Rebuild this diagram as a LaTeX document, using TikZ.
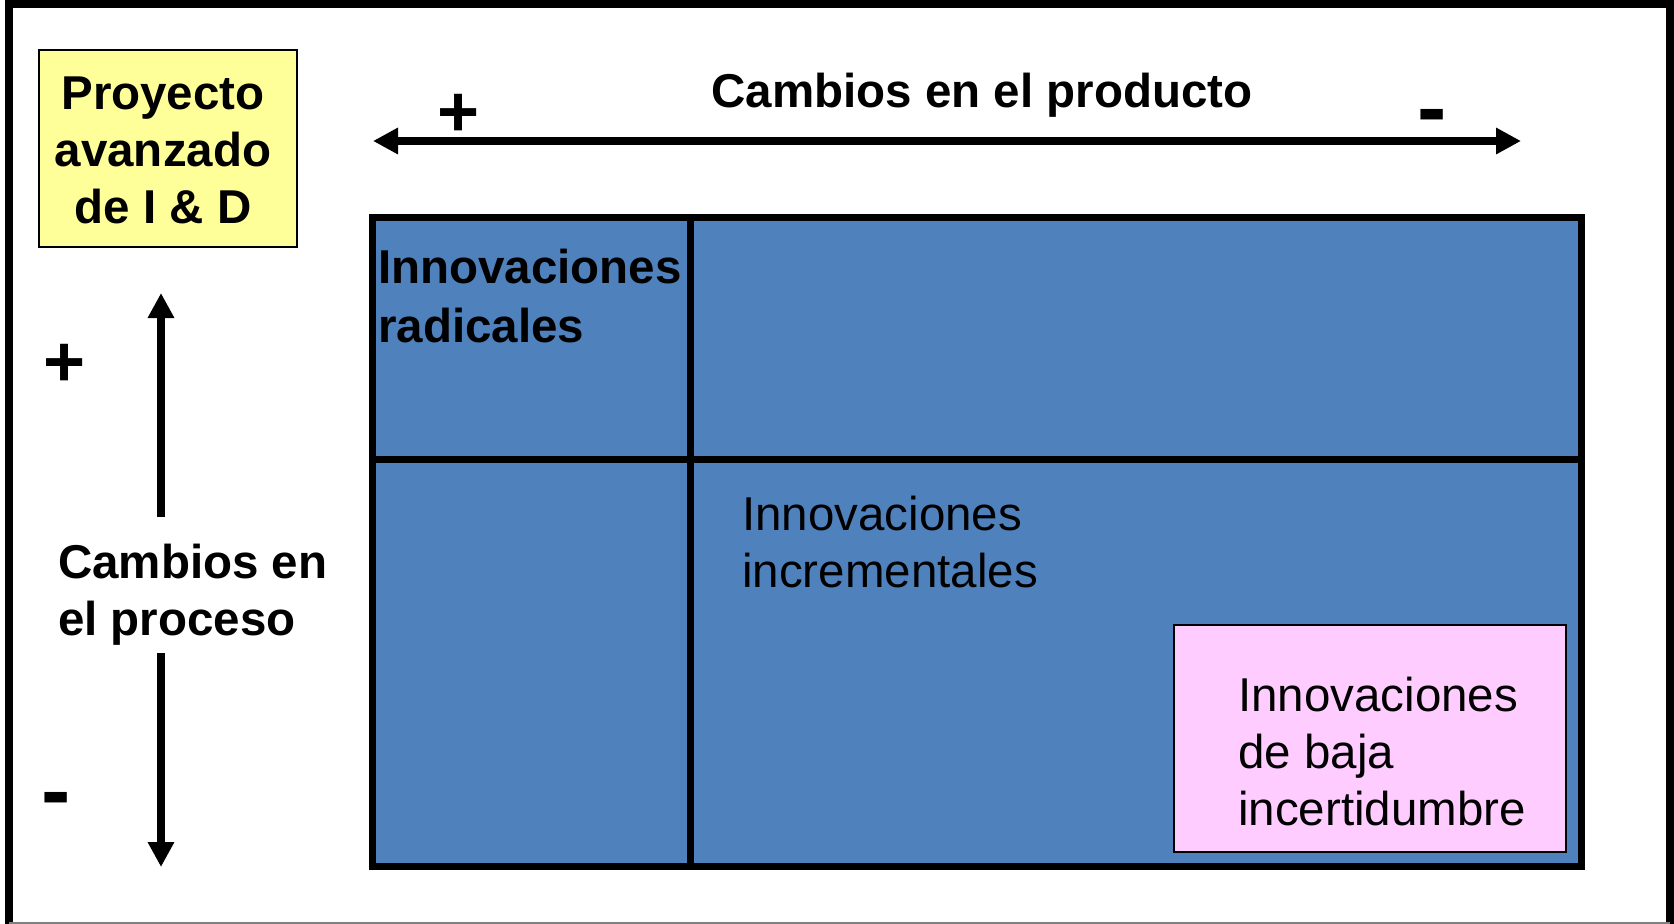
\documentclass[tikz,border=0pt]{standalone}
\usepackage{fontspec}
\setmainfont{Liberation Sans}
\usetikzlibrary{arrows.meta}
\definecolor{cellblue}{HTML}{4F81BD}
\definecolor{rdyellow}{HTML}{FFFF99}
\definecolor{lowpink}{HTML}{FFCCFF}
\begin{document}
\begin{tikzpicture}[x=1pt,y=-1pt,
  txt/.style={font=\fontsize{47.5}{57}\selectfont, inner sep=0pt, text=black},
  txtb/.style={font=\fontsize{47.5}{57}\selectfont\bfseries, inner sep=0pt, text=black},
  plussign/.style={font=\fontsize{72}{72}\selectfont\bfseries, inner sep=0pt},
  minussign/.style={font=\fontsize{88}{88}\selectfont\bfseries, inner sep=0pt},
  axis/.style={line width=7.5pt, -{Triangle[length=25pt,width=25pt]}},
  axisboth/.style={line width=7.5pt, {Triangle[length=25pt,width=25pt]}-{Triangle[length=25pt,width=25pt]}},
  cell/.style={draw=black, line width=7pt, fill=cellblue},
]
\useasboundingbox (0,0) rectangle (1674,924);
\fill[white] (0,0) rectangle (1674,924);
% outer frame
\draw[line width=8pt] (9,924) -- (9,4) -- (1670,4) -- (1670,924);
\draw[gray, line width=1.5pt] (9,923) -- (1670,923);

% yellow box
\node[draw=black, line width=1.5pt, fill=rdyellow, minimum width=258pt, minimum height=197pt, inner sep=0pt] (rd) at (168,148.5) {};
\node[txtb, align=center, anchor=base] (rdtext) at (163,223) {Proyecto\\avanzado\\de I \& D};

% top axis
\coordinate (pl) at (373,141);
\coordinate (pr) at (1521,141);
\draw[axisboth] (pl) -- (pr);
\node[txtb, anchor=base] (prod) at (982,107) {Cambios en el producto};
\node[plussign] (tplus) at (459,115) {+};
\node[minussign] (tminus) at (1432,123) {-};

% left axis
\coordinate (vu0) at (161,517);
\coordinate (vu) at (161,293);
\coordinate (vd0) at (161,653);
\coordinate (vd) at (161,867);
\draw[axis] (vu0) -- (vu);
\draw[axis] (vd0) -- (vd);
\node[txtb, align=left, anchor=base west] (proc) at (58,635) {Cambios en\\el proceso};
\node[plussign] (lplus) at (65,365) {+};
\node[minussign] (lminus) at (56.5,806) {-};

% grid
\draw[cell] (372,217) rectangle (690,459);
\draw[cell] (690,217) rectangle (1581,459);
\draw[cell] (372,459) rectangle (690,866);
\draw[cell] (690,459) rectangle (1581,866);
\node[txtb, align=left, anchor=base west, font=\fontsize{47.5}{59}\selectfont\bfseries] (rad) at (378,342) {Innovaciones\\radicales};
\node[txt, align=left, anchor=base west] (inc) at (742,587) {Innovaciones\\incrementales};

% pink box
\node[draw=black, line width=2pt, fill=lowpink, minimum width=392pt, minimum height=227pt, inner sep=0pt] (low) at (1370,738.5) {};
\node[txt, align=left, anchor=base west] (lowtext) at (1238,825) {Innovaciones\\de baja\\incertidumbre};
\end{tikzpicture}
\end{document}
